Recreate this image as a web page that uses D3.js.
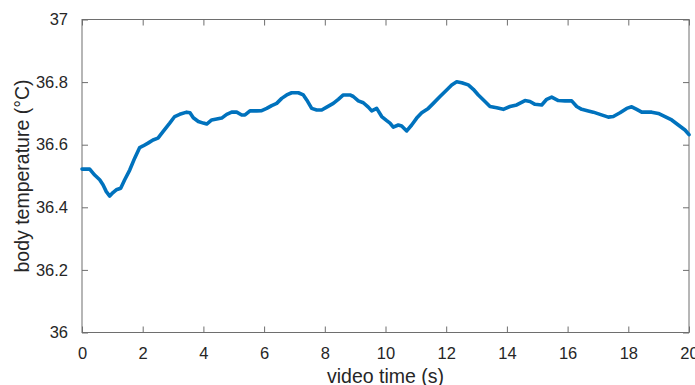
<!DOCTYPE html>
<html>
<head>
<meta charset="utf-8">
<script src="https://cdn.jsdelivr.net/npm/d3@7"></script>
<style>
  html, body { margin: 0; padding: 0; background: #fff; }
  svg { display: block; }
  text { font-family: "Liberation Sans", Arial, Helvetica, sans-serif; fill: #262626; }
</style>
</head>
<body>
<svg id="chart" width="695" height="385"></svg>
<script>
// Data
const timeSec = [0, 0.254, 0.418, 0.583, 0.692, 0.801, 0.913, 1.021, 1.130, 1.275, 1.407, 1.572, 1.736, 1.901, 2.010, 2.175, 2.339, 2.504, 2.669, 2.890, 3.054, 3.219, 3.450, 3.558, 3.667, 3.832, 3.997, 4.109, 4.273, 4.438, 4.603, 4.768, 4.932, 5.097, 5.262, 5.371, 5.535, 5.756, 5.921, 6.086, 6.250, 6.415, 6.580, 6.745, 6.909, 7.127, 7.292, 7.404, 7.568, 7.733, 7.898, 8.063, 8.280, 8.445, 8.610, 8.830, 8.939, 9.104, 9.269, 9.433, 9.545, 9.710, 9.875, 10.040, 10.148, 10.257, 10.422, 10.534, 10.699, 10.863, 11.028, 11.193, 11.410, 11.575, 11.796, 12.016, 12.181, 12.346, 12.511, 12.728, 12.893, 13.058, 13.278, 13.443, 13.664, 13.881, 14.102, 14.323, 14.596, 14.761, 14.926, 15.147, 15.311, 15.476, 15.694, 15.914, 16.135, 16.300, 16.465, 16.682, 16.847, 17.068, 17.341, 17.506, 17.727, 17.947, 18.112, 18.277, 18.442, 18.771, 18.989, 19.209, 19.430, 19.648, 19.868, 20.0];
const bodyTemp = [36.522, 36.522, 36.503, 36.488, 36.472, 36.450, 36.436, 36.447, 36.456, 36.461, 36.488, 36.519, 36.557, 36.591, 36.596, 36.605, 36.615, 36.621, 36.642, 36.669, 36.690, 36.697, 36.704, 36.702, 36.686, 36.674, 36.669, 36.666, 36.679, 36.682, 36.685, 36.697, 36.704, 36.704, 36.695, 36.695, 36.708, 36.708, 36.709, 36.716, 36.725, 36.732, 36.748, 36.759, 36.766, 36.766, 36.759, 36.743, 36.716, 36.711, 36.711, 36.720, 36.732, 36.745, 36.759, 36.759, 36.754, 36.740, 36.734, 36.720, 36.708, 36.716, 36.690, 36.677, 36.669, 36.656, 36.663, 36.660, 36.644, 36.663, 36.685, 36.702, 36.716, 36.732, 36.754, 36.775, 36.791, 36.801, 36.798, 36.791, 36.777, 36.759, 36.738, 36.722, 36.718, 36.713, 36.722, 36.727, 36.741, 36.738, 36.729, 36.727, 36.745, 36.752, 36.741, 36.740, 36.740, 36.722, 36.713, 36.708, 36.704, 36.697, 36.688, 36.690, 36.702, 36.716, 36.721, 36.713, 36.704, 36.704, 36.700, 36.690, 36.679, 36.663, 36.647, 36.632];
const xTicks = [0, 2, 4, 6, 8, 10, 12, 14, 16, 18, 20];
const yTicks = [36, 36.2, 36.4, 36.6, 36.8, 37];
const xLabel = "video time (s)";
const yLabel = "body temperature (°C)";

const svg = d3.select("#chart");
const m = { left: 82, right: 689, top: 19.5, bottom: 332.5 };

const x = d3.scaleLinear().domain([0, 20]).range([m.left, m.right]);
const y = d3.scaleLinear().domain([36, 37]).range([m.bottom, m.top]);

const axisColor = "#6e6e6e";
const tickLen = 6;

// Box
svg.append("rect")
  .attr("x", m.left).attr("y", m.top)
  .attr("width", m.right - m.left).attr("height", m.bottom - m.top)
  .attr("fill", "none").attr("stroke", axisColor).attr("stroke-width", 1);

// Bottom axis (inward ticks)
const gx = svg.append("g").attr("transform", `translate(0,${m.bottom})`)
  .call(d3.axisBottom(x).tickValues(xTicks).tickSize(-tickLen).tickPadding(tickLen + 9).tickFormat(d3.format("d")));
// Top ticks
const gxt = svg.append("g").attr("transform", `translate(0,${m.top})`)
  .call(d3.axisTop(x).tickValues(xTicks).tickSize(-tickLen).tickFormat(""));
// Left axis
const gy = svg.append("g").attr("transform", `translate(${m.left},0)`)
  .call(d3.axisLeft(y).tickValues(yTicks).tickSize(-tickLen).tickPadding(tickLen + 8).tickFormat(d => d3.format("")(+d.toFixed(1))));
// Right ticks
const gyr = svg.append("g").attr("transform", `translate(${m.right},0)`)
  .call(d3.axisRight(y).tickValues(yTicks).tickSize(-tickLen).tickFormat(""));

[gx, gxt, gy, gyr].forEach(g => {
  g.select(".domain").remove();
  g.selectAll(".tick line").attr("stroke", axisColor).attr("stroke-width", 1);
  g.selectAll(".tick text").attr("fill", "#262626").style("font-size", "16.5px")
    .style("font-family", '"Liberation Sans", Arial, Helvetica, sans-serif');
});

// Line
const line = d3.line().x((d, i) => x(timeSec[i])).y(d => y(d)).curve(d3.curveLinear);
svg.append("path")
  .datum(bodyTemp)
  .attr("d", line)
  .attr("fill", "none")
  .attr("stroke", "#0072BD")
  .attr("stroke-width", 3.6)
  .attr("stroke-linejoin", "round")
  .attr("stroke-linecap", "round");

// Axis labels
svg.append("text")
  .attr("x", (m.left + m.right) / 2).attr("y", 383)
  .attr("text-anchor", "middle")
  .style("font-size", "19.5px")
  .text(xLabel);

svg.append("text")
  .attr("transform", `translate(29,${(m.top + m.bottom) / 2}) rotate(-90)`)
  .attr("text-anchor", "middle")
  .style("font-size", "19.5px")
  .text(yLabel);
</script>
</body>
</html>
